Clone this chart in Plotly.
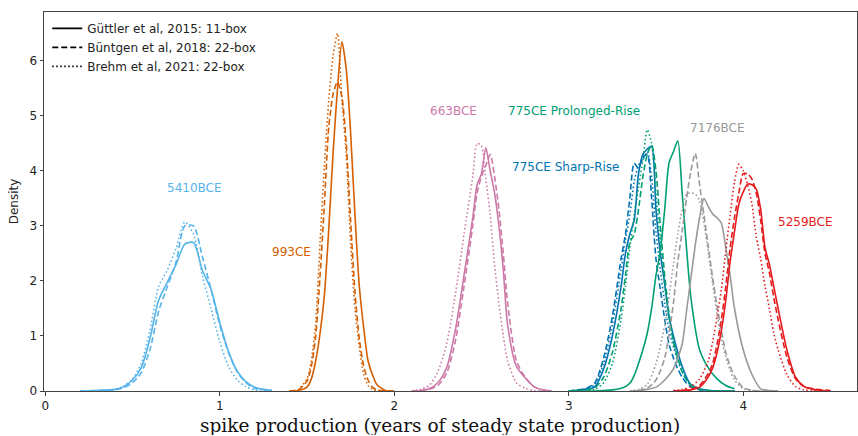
import plotly.graph_objects as go

# ---------------- data ----------------
x_5410 = [0.20, 0.30, 0.40, 0.45, 0.50, 0.55, 0.60, 0.65, 0.70, 0.75, 0.80, 0.85, 0.90, 0.95, 1.00, 1.05, 1.10, 1.15, 1.20, 1.30]
g15_5410 = [0, 0.01, 0.03, 0.08, 0.20, 0.42, 0.95, 1.65, 1.98, 2.30, 2.67, 2.70, 2.20, 1.85, 1.25, 0.72, 0.36, 0.17, 0.07, 0.01]
b18_5410 = [0, 0.01, 0.02, 0.06, 0.15, 0.33, 0.75, 1.45, 1.90, 2.35, 3.00, 3.00, 2.45, 1.85, 1.20, 0.70, 0.35, 0.15, 0.05, 0.01]
b21_5410 = [0, 0.01, 0.03, 0.09, 0.22, 0.50, 1.10, 1.90, 2.20, 2.60, 3.07, 2.85, 2.10, 1.50, 0.90, 0.45, 0.20, 0.08, 0.02, 0]

x_993 = [1.40, 1.45, 1.50, 1.525, 1.55, 1.575, 1.60, 1.625, 1.65, 1.675, 1.70, 1.725, 1.75, 1.775, 1.80, 1.825, 1.85, 1.875, 1.90, 1.95, 2.00]
g15_993 = [0, 0.01, 0.07, 0.22, 0.55, 1.05, 1.75, 2.95, 4.35, 5.50, 6.35, 5.85, 4.70, 3.20, 1.90, 1.15, 0.55, 0.30, 0.12, 0.01, 0]
b18_993 = [0, 0.02, 0.18, 0.45, 1.00, 2.10, 3.40, 4.80, 5.40, 5.62, 5.35, 4.50, 3.10, 1.80, 0.95, 0.45, 0.20, 0.07, 0.02, 0, 0]
b21_993 = [0, 0.03, 0.22, 0.55, 1.25, 2.70, 4.10, 5.30, 6.10, 6.50, 5.30, 4.30, 2.70, 1.50, 0.80, 0.30, 0.10, 0.03, 0.01, 0, 0]

x_663 = [2.10, 2.15, 2.20, 2.25, 2.30, 2.35, 2.40, 2.45, 2.475, 2.50, 2.525, 2.55, 2.575, 2.60, 2.625, 2.65, 2.70, 2.75, 2.80, 2.85, 2.90]
g15_663 = [0, 0.01, 0.04, 0.15, 0.42, 1.10, 2.10, 3.15, 3.75, 3.95, 4.42, 4.00, 3.60, 3.00, 2.20, 1.20, 0.45, 0.24, 0.08, 0.02, 0]
b18_663 = [0, 0.01, 0.03, 0.10, 0.32, 0.90, 1.90, 3.00, 3.60, 3.90, 4.10, 4.30, 3.90, 3.30, 2.50, 1.60, 0.55, 0.25, 0.08, 0.02, 0]
b21_663 = [0, 0.03, 0.10, 0.35, 0.85, 1.75, 2.85, 3.90, 4.50, 4.45, 3.85, 3.20, 2.30, 1.60, 1.00, 0.55, 0.15, 0.05, 0.01, 0, 0]

x_775 = [3.00, 3.10, 3.15, 3.20, 3.25, 3.30, 3.325, 3.35, 3.375, 3.40, 3.425, 3.45, 3.475, 3.50, 3.525, 3.55, 3.575, 3.60, 3.625, 3.65, 3.675, 3.70, 3.75, 3.80, 3.85, 3.90, 3.95]
g15_775s = [0, 0.03, 0.08, 0.40, 1.00, 1.90, 2.50, 2.85, 3.10, 3.95, 4.30, 4.40, 4.45, 3.30, 2.50, 1.95, 1.35, 1.00, 0.70, 0.45, 0.25, 0.12, 0.04, 0.01, 0, 0, 0]
b18_775s = [0, 0.05, 0.15, 0.60, 1.35, 2.40, 2.85, 3.50, 4.14, 4.05, 4.25, 4.30, 3.50, 2.40, 1.85, 1.30, 0.85, 0.60, 0.40, 0.25, 0.14, 0.07, 0.02, 0, 0, 0, 0]
b21_775s = [0, 0.04, 0.12, 0.50, 1.20, 2.20, 2.75, 3.20, 3.80, 4.10, 4.20, 4.35, 3.90, 2.90, 2.20, 1.60, 1.10, 0.80, 0.55, 0.35, 0.20, 0.10, 0.03, 0, 0, 0, 0]
g15_775p = [0, 0, 0, 0.01, 0.02, 0.05, 0.08, 0.14, 0.28, 0.50, 0.75, 1.05, 1.50, 2.10, 2.55, 3.30, 4.15, 4.35, 4.55, 3.60, 2.60, 1.70, 0.75, 0.42, 0.22, 0.10, 0.04]
b18_775p = [0, 0.02, 0.06, 0.25, 0.70, 1.50, 2.10, 2.70, 2.85, 3.30, 3.90, 4.30, 4.47, 4.00, 3.00, 2.10, 1.40, 0.90, 0.60, 0.35, 0.20, 0.10, 0.03, 0.01, 0, 0, 0]
b21_775p = [0, 0.01, 0.03, 0.15, 0.50, 1.30, 1.90, 2.60, 3.20, 3.70, 4.20, 4.75, 4.50, 3.60, 2.70, 1.90, 1.30, 0.90, 0.60, 0.38, 0.22, 0.12, 0.03, 0.01, 0, 0, 0]

x_7176 = [3.35, 3.40, 3.45, 3.50, 3.55, 3.60, 3.625, 3.65, 3.675, 3.70, 3.725, 3.75, 3.775, 3.80, 3.825, 3.85, 3.875, 3.90, 3.925, 3.95, 4.00, 4.05, 4.10, 4.15, 4.20]
g15_7176 = [0, 0.01, 0.03, 0.07, 0.20, 0.40, 0.60, 0.85, 1.45, 2.05, 2.65, 3.15, 3.50, 3.35, 3.22, 3.15, 3.05, 2.60, 2.10, 1.50, 0.75, 0.30, 0.04, 0.01, 0]
b18_7176 = [0, 0.01, 0.05, 0.20, 0.60, 1.60, 2.35, 2.90, 3.50, 4.00, 4.32, 3.75, 3.20, 2.62, 2.05, 1.55, 1.10, 0.70, 0.45, 0.27, 0.06, 0.01, 0, 0, 0]
b21_7176 = [0, 0.03, 0.12, 0.50, 1.20, 2.30, 2.85, 3.30, 3.58, 3.60, 3.58, 3.45, 3.05, 2.50, 1.95, 1.40, 0.95, 0.62, 0.38, 0.20, 0.04, 0.01, 0, 0, 0]

x_5259 = [3.60, 3.65, 3.70, 3.75, 3.80, 3.825, 3.85, 3.875, 3.90, 3.925, 3.95, 3.975, 4.00, 4.025, 4.05, 4.075, 4.10, 4.125, 4.15, 4.175, 4.20, 4.25, 4.30, 4.35, 4.40, 4.45, 4.50]
g15_5259 = [0, 0.01, 0.02, 0.07, 0.26, 0.42, 0.70, 1.10, 1.65, 2.35, 2.90, 3.40, 3.62, 3.76, 3.75, 3.67, 3.30, 2.60, 2.30, 1.90, 1.50, 0.75, 0.25, 0.08, 0.03, 0.01, 0]
b18_5259 = [0, 0.01, 0.03, 0.10, 0.32, 0.50, 0.85, 1.30, 1.90, 2.60, 3.15, 3.60, 3.95, 3.95, 3.85, 3.60, 3.10, 2.50, 2.15, 1.70, 1.30, 0.62, 0.22, 0.08, 0.04, 0.02, 0.01]
b21_5259 = [0.01, 0.03, 0.08, 0.22, 0.55, 0.90, 1.35, 1.85, 2.55, 3.20, 3.80, 4.12, 4.00, 3.75, 3.40, 2.80, 2.40, 1.90, 1.50, 1.05, 0.75, 0.30, 0.08, 0.02, 0, 0, 0]

events = ["5410BCE", "993CE", "663BCE", "775CE Sharp-Rise", "775CE Prolonged-Rise", "7176BCE", "5259BCE"]
label_x = [0.858, 1.414, 2.337, 2.983, 3.03, 3.855, 4.354]
label_y = [3.69, 2.53, 5.09, 4.08, 5.09, 4.78, 3.07]
series_names = ["Güttler et al, 2015: 11-box", "Büntgen et al, 2018: 22-box", "Brehm et al, 2021: 22-box"]
x_title = "spike production (years of steady state production)"
y_title = "Density"

# ---------------- style ----------------
colors = ["#56B4E9", "#D55E00", "#CC79A7", "#0072B2", "#009E73", "#999999", "#E41A1C"]
dashes = ["solid", "6px,3px", "1.5px,2.5px"]
curves = [
    (x_5410, [g15_5410, b18_5410, b21_5410]),
    (x_993, [g15_993, b18_993, b21_993]),
    (x_663, [g15_663, b18_663, b21_663]),
    (x_775, [g15_775s, b18_775s, b21_775s]),
    (x_775, [g15_775p, b18_775p, b21_775p]),
    (x_7176, [g15_7176, b18_7176, b21_7176]),
    (x_5259, [g15_5259, b18_5259, b21_5259]),
]

fig = go.Figure()
for (xs, ys_list), col in zip(curves, colors):
    for ys, dsh in zip(ys_list, dashes):
        fig.add_trace(go.Scatter(x=xs, y=ys, mode="lines", showlegend=False,
                                 line=dict(color=col, width=1.6, dash=dsh, shape="spline", smoothing=0.7),
                                 hoverinfo="skip"))

for name, dsh in zip(series_names, dashes):
    fig.add_trace(go.Scatter(x=[None], y=[None], mode="lines", name=name,
                             line=dict(color="black", width=1.6, dash=dsh)))

for ev, lx, ly, col in zip(events, label_x, label_y, colors):
    fig.add_annotation(x=lx, y=ly, xref="x", yref="y", text=ev, showarrow=False,
                       font=dict(family="DejaVu Sans", size=12, color=col))

# x-axis title (matplotlib-like serif label)
fig.add_annotation(x=0.487, y=-0.091, xref="paper", yref="paper", text=x_title, showarrow=False,
                   xanchor="center", yanchor="middle", height=19, valign="middle",
                   font=dict(family="DejaVu Serif", size=18.5, color="#111"))

axis_common = dict(showgrid=False, zeroline=False, showline=True, linecolor="#444", linewidth=1,
                   mirror=True, ticks="outside", ticklen=3.5, tickcolor="#444", tickwidth=1,
                   tickfont=dict(family="DejaVu Sans", size=12, color="#222"))

fig.update_layout(
    width=858, height=436,
    margin=dict(l=44, r=1, t=12, b=45),
    plot_bgcolor="white", paper_bgcolor="white",
    showlegend=True,
    legend=dict(x=0.004, y=0.995, xanchor="left", yanchor="top", bgcolor="rgba(0,0,0,0)",
                font=dict(family="DejaVu Sans", size=12, color="#222"), tracegroupgap=0,
                itemwidth=30),
    xaxis=dict(range=[-0.007, 4.652], tickvals=[0, 1, 2, 3, 4], **axis_common),
    yaxis=dict(range=[0, 6.89], tickvals=[0, 1, 2, 3, 4, 5, 6],
               title=dict(text=y_title, font=dict(family="DejaVu Sans", size=12, color="#222"), standoff=8),
               **axis_common),
)

fig.write_html("out.html")
